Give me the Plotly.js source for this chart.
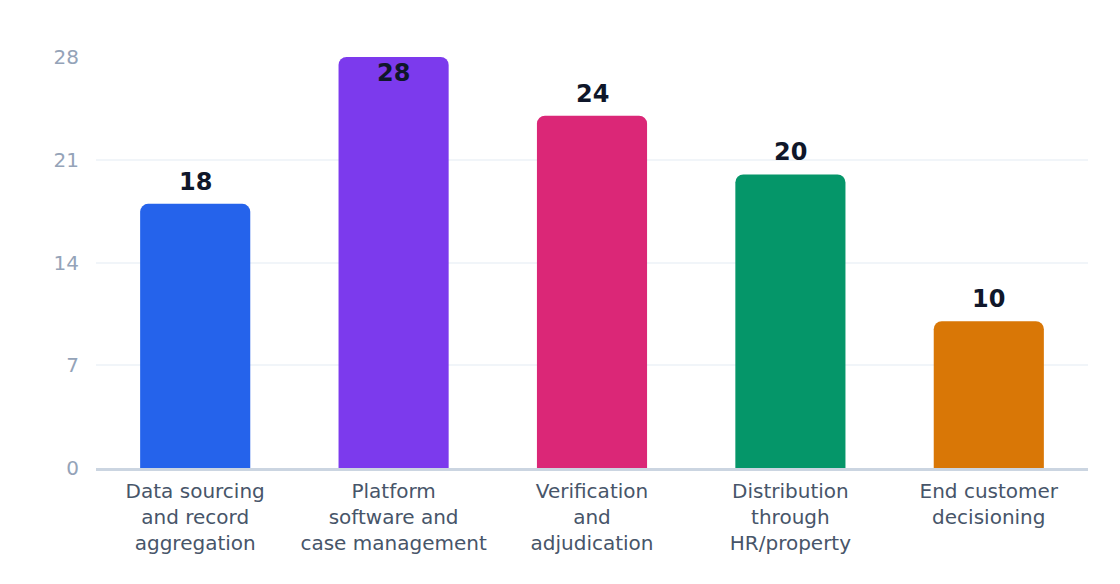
<!DOCTYPE html>
<html>
<head>
<meta charset="utf-8">
<script src="https://cdn.plot.ly/plotly-3.0.1.min.js"></script>
<style>
  html, body { margin: 0; padding: 0; background: #fff; }
  #chart { width: 1120px; height: 584px; }
</style>
</head>
<body>
<div id="chart"></div>
<script>
var categories = [
  'Data sourcing<br>and record<br>aggregation',
  'Platform<br>software and<br>case management',
  'Verification<br>and<br>adjudication',
  'Distribution<br>through<br>HR/property',
  'End customer<br>decisioning'
];
var values = [18, 28, 24, 20, 10];
var barColors = ['#2563eb', '#7c3aed', '#db2777', '#059669', '#d97706'];
var yTicks = [0, 7, 14, 21, 28];
var yMax = 28;

var trace = {
  type: 'bar',
  x: categories,
  y: values,
  marker: { color: barColors, cornerradius: 8, line: { width: 0 } },
  hoverinfo: 'skip'
};

// value labels: above the bar, or just inside its top when the bar reaches the axis max
var labels = values.map(function (v, i) {
  var atTop = v >= yMax;
  return {
    x: categories[i], y: v, xref: 'x', yref: 'y',
    text: '<b>' + v + '</b>',
    showarrow: false,
    yanchor: atTop ? 'top' : 'bottom',
    yshift: atTop ? 0 : 6,
    font: { family: 'DejaVu Sans', size: 24, color: '#0f172a' }
  };
});

var layout = {
  width: 1120, height: 584,
  margin: { l: 96, r: 32, t: 57, b: 116 },
  paper_bgcolor: '#ffffff',
  plot_bgcolor: '#ffffff',
  font: { family: 'DejaVu Sans', size: 20, color: '#475569' },
  bargap: 0.445,
  showlegend: false,
  annotations: labels,
  xaxis: {
    tickfont: { size: 20, color: '#475569' },
    showline: true, linecolor: '#cbd5e1', linewidth: 3,
    ticks: '', showgrid: false,
    ticklabelstandoff: 3
  },
  yaxis: {
    range: [0, yMax],
    tickvals: yTicks,
    ticktext: yTicks.map(String),
    tickfont: { size: 20, color: '#94a3b8' },
    gridcolor: '#f1f5f9', gridwidth: 2,
    zeroline: false,
    showline: false,
    ticklen: 0,
    ticklabelstandoff: 16
  }
};

Plotly.newPlot('chart', [trace], layout, { displayModeBar: false, staticPlot: true });
</script>
</body>
</html>
